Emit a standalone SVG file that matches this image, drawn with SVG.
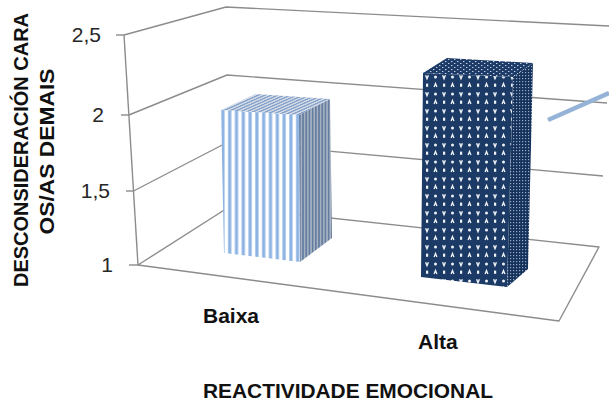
<svg xmlns="http://www.w3.org/2000/svg" width="609" height="403" viewBox="0 0 609 403">
<defs>
<style>
.grid{fill:none;stroke:#8c8c8c;stroke-width:1.4;stroke-linejoin:round}
.tick{font-family:"Liberation Sans",Arial,sans-serif;font-size:21px;fill:#262626;text-anchor:end}
.title{font-family:"Liberation Sans",Arial,sans-serif;font-weight:bold;font-size:21px;fill:#111}
</style>
<pattern id="p1front" patternUnits="userSpaceOnUse" x="221" y="0" width="6.8" height="10">
<rect width="6.8" height="10" fill="#ffffff"/>
<rect x="0.3" width="3.2" height="10" fill="#8cb3e3"/>
</pattern>
<pattern id="p1right" patternUnits="userSpaceOnUse" x="299" y="0" width="3.2" height="10">
<rect width="3.2" height="10" fill="#aab4c2"/>
<rect width="1.7" height="10" fill="#637da1"/>
</pattern>
<pattern id="p1top" patternUnits="userSpaceOnUse" x="221" y="110" width="6.4" height="10" patternTransform="skewX(-66)">
<rect width="6.4" height="10" fill="#d3dce8"/>
<rect width="3.2" height="10" fill="#86a2c8"/>
</pattern>
<pattern id="p2front" patternUnits="userSpaceOnUse" x="423" y="73" width="17" height="17">
<rect width="17" height="17" fill="#1b3a66"/>
<g fill="none" stroke="#eef2f7" stroke-width="1.4">
<path d="M2.6 2.2 L4 5.6 L5.4 2.2"/>
<path d="M11.1 13.9 L12.5 10.6 L13.9 13.9"/>
</g>
<g fill="#eef2f7">
<circle cx="12.5" cy="3.9" r="1.5"/>
<rect x="3" y="10.6" width="2.2" height="3.2"/>
</g>
</pattern>
<pattern id="p2right" patternUnits="userSpaceOnUse" width="3" height="3">
<rect width="3" height="3" fill="#15325c"/>
<rect width="1.2" height="1.2" fill="#9aa9bf"/>
</pattern>
<pattern id="p2top" patternUnits="userSpaceOnUse" width="6" height="4">
<rect width="6" height="4" fill="#1c3b68"/>
<rect x="1" y="1" width="1.4" height="1.1" fill="#c5d0de"/>
<rect x="4" y="3" width="1.4" height="1" fill="#c5d0de"/>
</pattern>
</defs>
<rect width="609" height="403" fill="#ffffff"/>

<g id="axes">
<polyline class="grid" points="124,35 226,7 609,26"/>
<polyline class="grid" points="128.9,115 227,75 607,103"/>
<polyline class="grid" points="133.5,191 228,142 603,176"/>
<polygon class="grid" points="138,265 229,207 599,247 559,321"/>
<line class="grid" x1="124" y1="35" x2="138" y2="265"/>
<line class="grid" x1="116" y1="35" x2="124" y2="35"/>
<line class="grid" x1="121" y1="115" x2="129" y2="115"/>
<line class="grid" x1="126" y1="191" x2="134" y2="191"/>
<line class="grid" x1="129" y1="265" x2="138" y2="265"/>
<line x1="548" y1="120" x2="609" y2="93" stroke="#95b3d7" stroke-width="4.5"/>
</g>

<g id="tick-labels">
<text class="tick" x="101" y="42">2,5</text>
<text class="tick" x="104" y="122">2</text>
<text class="tick" x="110" y="198">1,5</text>
<text class="tick" x="113" y="272">1</text>
</g>

<g id="bar-baixa">
<polygon points="221,110 299,115 300,262 224,253" fill="url(#p1front)"/>
<polygon points="221,110 256,94 330,99 299,115" fill="url(#p1top)"/>
<polygon points="299,115 330,99 332,238 300,262" fill="url(#p1right)"/>
</g>

<g id="bar-alta">
<polygon points="423,73 513,77 507,287 421,277" fill="url(#p2front)"/>
<polygon points="423,73 447,58 533,63 513,77" fill="url(#p2top)"/>
<polygon points="513,77 533,63 528,269 507,287" fill="url(#p2right)"/>
</g>

<g id="titles">
<text class="title" transform="translate(28,150) rotate(-90)" text-anchor="middle" textLength="274" lengthAdjust="spacingAndGlyphs">DESCONSIDERACIÓN CARA</text>
<text class="title" transform="translate(54,151.5) rotate(-90)" text-anchor="middle" textLength="166" lengthAdjust="spacingAndGlyphs">OS/AS DEMAIS</text>
<text class="title" x="203" y="323">Baixa</text>
<text class="title" x="418" y="349">Alta</text>
<text class="title" x="203" y="398" textLength="290" lengthAdjust="spacingAndGlyphs">REACTIVIDADE EMOCIONAL</text>
</g>
</svg>
